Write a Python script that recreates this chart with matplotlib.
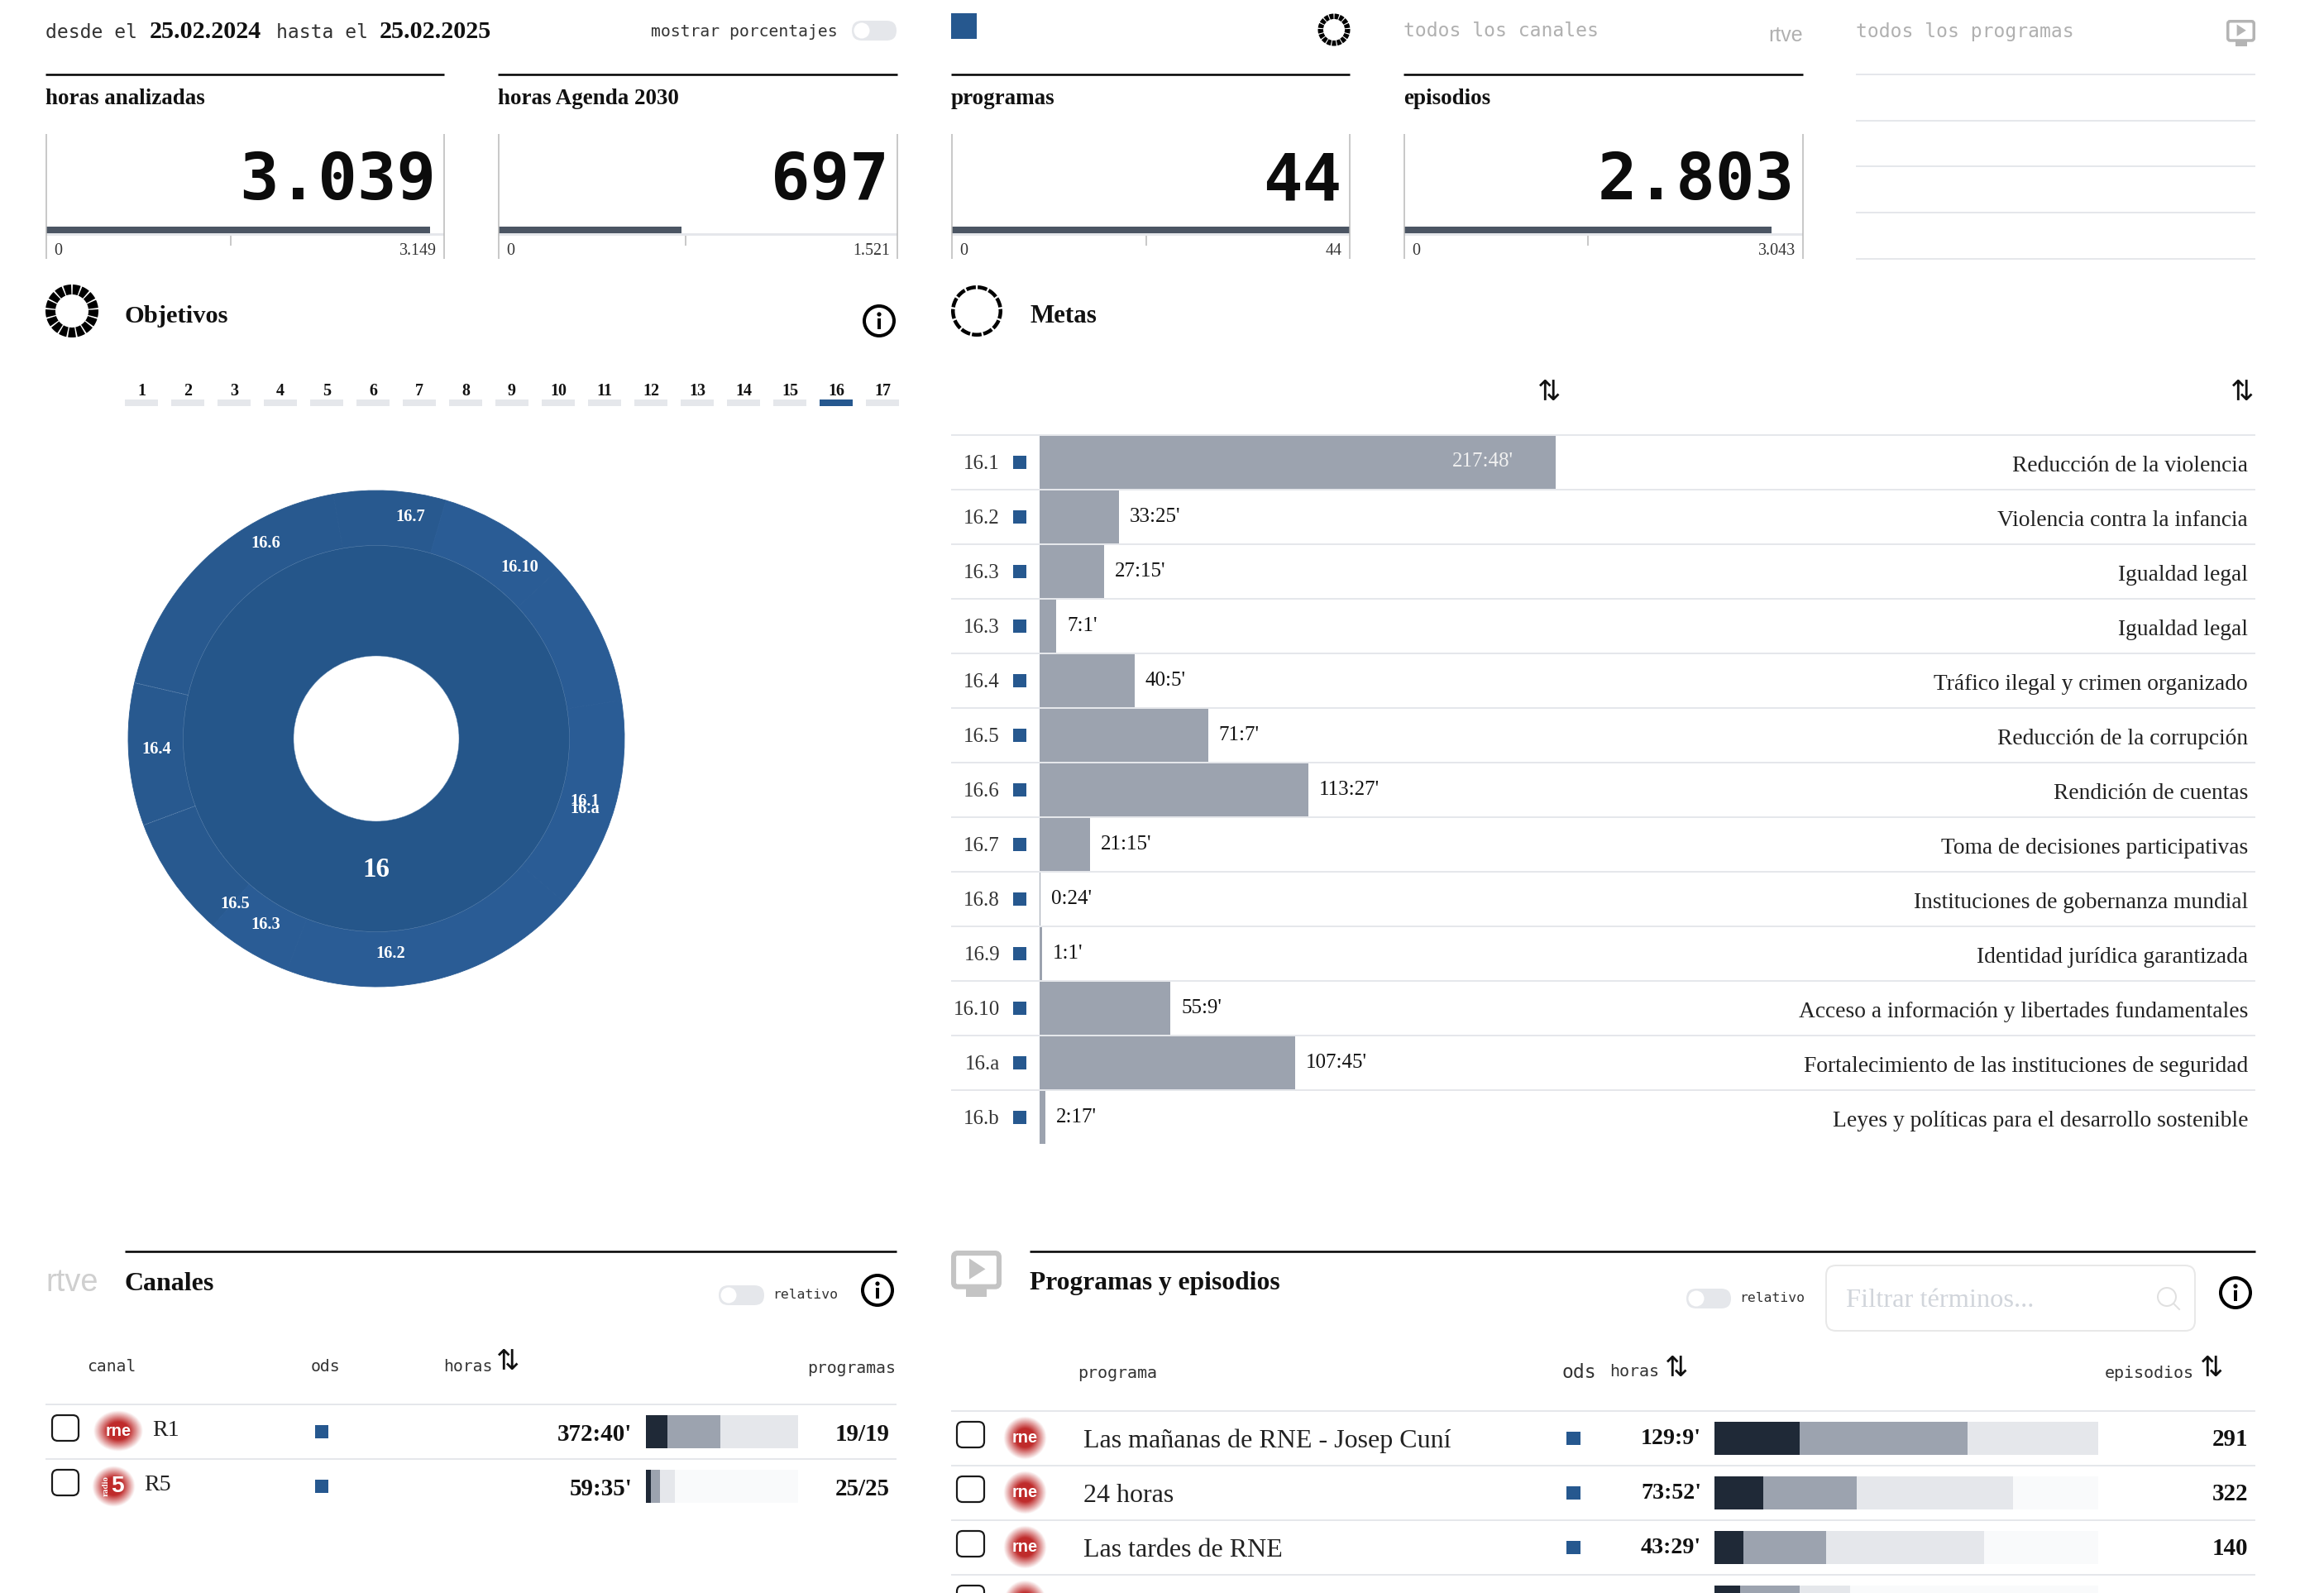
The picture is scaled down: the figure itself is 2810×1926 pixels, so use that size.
import numpy as np
import matplotlib
matplotlib.use('Agg')
import matplotlib.pyplot as plt
from matplotlib.patches import Wedge, Rectangle, FancyBboxPatch, Circle, Polygon

W, H = 2810, 1926
SERIF = 'Liberation Serif'
MONO = 'DejaVu Sans Mono'
BLUE = '#26588f'
DARK = '#1f2937'
GRAY = '#9ca3af'
LIGHT = '#e5e7eb'
PALE = '#f9fafb'
LINE = '#e5e7eb'

# kpi cards
kpi_titles = ['horas analizadas', 'horas Agenda 2030', 'programas', 'episodios']
kpi_text = ['3.039', '697', '44', '2.803']
kpi_values = [3039, 697, 44, 2803]
kpi_max = [3149, 1521, 44, 3043]
kpi_max_text = ['3.149', '1.521', '44', '3.043']
kpi_ticks = [1458, 712, 21.5, 1400]

# objetivos tabs
tab_labels = [str(i) for i in range(1, 18)]
tab_selected = '16'

# sunburst, spans in degrees
outer_labels = ['16.7', '16.6', '16.4', '16.5', '16.3', '16.2', '16.1', '16.a', '16.10']
outer_spans = [26.3, 67.0, 33.4, 28.5, 20.0, 70.0, 50.0, 34.0, 30.8]
outer_colors = ['#28598f', '#28598f', '#28598f', '#28598f', '#2a5c95', '#2a5c95', '#2a5c95', '#2a5c95', '#2a5c95']

# metas
meta_ids = ['16.1', '16.2', '16.3', '16.3', '16.4', '16.5', '16.6', '16.7', '16.8', '16.9', '16.10', '16.a', '16.b']
meta_time = ["217:48'", "33:25'", "27:15'", "7:1'", "40:5'", "71:7'", "113:27'", "21:15'", "0:24'", "1:1'", "55:9'", "107:45'", "2:17'"]
meta_names = ['Reducción de la violencia', 'Violencia contra la infancia', 'Igualdad legal', 'Igualdad legal',
              'Tráfico ilegal y crimen organizado', 'Reducción de la corrupción', 'Rendición de cuentas',
              'Toma de decisiones participativas', 'Instituciones de gobernanza mundial',
              'Identidad jurídica garantizada', 'Acceso a información y libertades fundamentales',
              'Fortalecimiento de las instituciones de seguridad', 'Leyes y políticas para el desarrollo sostenible']

# canales
canal_names = ['R1', 'R5']
canal_time = ["372:40'", "59:35'"]
canal_prog = ['19/19', '25/25']
canal_dark = [14, 3]
canal_gray = [35, 6]
canal_light = [51, 10]
canal_pale = [0, 81]

# programas
prog_names = ['Las mañanas de RNE - Josep Cuní', '24 horas', 'Las tardes de RNE']
prog_time = ["129:9'", "73:52'", "43:29'"]
prog_eps = ['291', '322', '140']
prog_dark = [22.2, 12.8, 7.5, 6.6]
prog_gray = [43.8, 24.2, 21.7, 15.7]
prog_light = [34.0, 40.8, 41.0, 13.0]
prog_pale = [0, 22.2, 29.8, 64.7]


def pt(px):
    return px * 72 / 100


def hours(txt):
    h, m = txt.strip("'").split(':')
    return int(h) + int(m) / 60


fig = plt.figure(figsize=(W / 100, H / 100), dpi=100, facecolor='white')
ui = fig.add_axes([0, 0, 1, 1])
ui.set_xlim(0, W)
ui.set_ylim(H, 0)
ui.axis('off')
ui.set_zorder(10)


def px_axes(x0, y0, x1, y1):
    ax = fig.add_axes([x0 / W, 1 - y1 / H, (x1 - x0) / W, (y1 - y0) / H])
    ax.axis('off')
    ax.patch.set_alpha(0)
    return ax


def txt(x, y, s, size, family=SERIF, weight='normal', color='#111111', ha='left', va='center', **kw):
    return ui.text(x, y + 3, s, fontsize=pt(size), family=family, weight=weight, color=color, ha=ha, va=va, **kw)


def hline(y, x0, x1, color=LINE, lw=2):
    ui.plot([x0, x1], [y, y], color=color, lw=pt(lw), solid_capstyle='butt')


def vline(x, y0, y1, color='#b8b8b8', lw=1.5):
    ui.plot([x, x], [y0, y1], color=color, lw=pt(lw), solid_capstyle='butt')


def rect(x0, y0, x1, y1, color):
    ui.add_patch(Rectangle((x0, y0), x1 - x0, y1 - y0, facecolor=color, edgecolor='none'))


def rounded(x0, y0, x1, y1, r, face='none', edge='none', lw=2):
    ui.add_patch(FancyBboxPatch((x0 + r, y0 + r), x1 - x0 - 2 * r, y1 - y0 - 2 * r,
                                boxstyle='round,pad=%f,rounding_size=%f' % (r, r),
                                facecolor=face, edgecolor=edge, lw=pt(lw)))


def ring(cx, cy, r_out, r_in, n, gap, color='black'):
    step = 360 / n
    for i in range(n):
        a = 90 + i * step - step / 2
        ui.add_patch(Wedge((cx, cy), r_out, a + gap / 2, a + step - gap / 2, width=r_out - r_in,
                           facecolor=color, edgecolor='none'))


def toggle(x0, y0, x1, y1):
    r = (y1 - y0) / 2
    rounded(x0, y0, x1, y1, r, face='#e5e7eb')
    ui.add_patch(Circle((x0 + r, y0 + r), r - 2.5, facecolor='white', edgecolor='none'))


def info(cx, cy, r=18):
    ui.add_patch(Circle((cx, cy), r, facecolor='white', edgecolor='black', lw=pt(4)))
    ui.add_patch(Circle((cx, cy - 8), 2.6, facecolor='black', edgecolor='none'))
    rect(cx - 2.4, cy - 3, cx + 2.4, cy + 10, 'black')


def play_icon(x0, y0, x1, y1, color):
    h = y1 - y0
    w = x1 - x0
    sy = y0 + h * 0.78
    lw = w * 0.1
    rounded(x0 + lw / 2, y0 + lw / 2, x1 - lw / 2, sy, w * 0.08, edge=color, lw=lw)
    rect(x0 + w * 0.3, sy, x1 - w * 0.3, y1, color)
    ui.add_patch(Polygon([(x0 + w * 0.36, y0 + h * 0.17), (x0 + w * 0.68, y0 + h * 0.4), (x0 + w * 0.36, y0 + h * 0.62)],
                         facecolor=color, edgecolor='none'))


def logo(cx, cy, rx, ry, five=False):
    n = 80
    gx, gy = np.meshgrid(np.linspace(-1.4, 1.4, n), np.linspace(-1.4, 1.4, n))
    d = np.sqrt(gx ** 2 + gy ** 2)
    a = np.clip((1.25 - d) / 0.7, 0, 1)
    img = np.zeros((n, n, 4))
    img[..., 0] = 0.75
    img[..., 1] = 0.17
    img[..., 2] = 0.17
    img[..., 3] = a
    ui.imshow(img, extent=(cx - 1.4 * rx, cx + 1.4 * rx, cy + 1.4 * ry, cy - 1.4 * ry), aspect='auto', zorder=2,
              interpolation='bilinear')
    if five:
        txt(cx + 5, cy - 3, '5', 28, family='Liberation Sans', weight='bold', color='white', ha='center', zorder=3)
        txt(cx - 9, cy - 3, 'radio', 11, weight='bold', color='white', ha='center', rotation=90, zorder=3)
    else:
        txt(cx, cy - 3, 'rne', 20, family='Liberation Sans', color='white', weight='bold', ha='center', zorder=3)


def checkbox(x0, y0, x1, y1):
    rounded(x0, y0, x1, y1, 7, edge='#1a1a1a', lw=2.2)


def sort_icon(x, y):
    ui.text(x, y, '⇅', fontsize=pt(34), family='DejaVu Sans', ha='center', va='center', color='#111111')


# header row
txt(55, 37, 'desde el', 23, family=MONO, color='#333333')
txt(181, 36, '25.02.2024', 30, weight='bold')
txt(334, 37, 'hasta el', 23, family=MONO, color='#333333')
txt(459, 36, '25.02.2025', 30, weight='bold')
txt(1013, 36, 'mostrar porcentajes', 19.8, family=MONO, ha='right', color='#333333')
toggle(1030, 25, 1084, 49)
rect(1150, 16, 1181, 47, BLUE)
ring(1613, 36, 19.5, 13, 17, 4)
txt(1697, 35, 'todos los canales', 23, family=MONO, color='#b0b0b0')
txt(2180, 40, 'rtve', 25, family='Liberation Sans', color='#b0b0b0', ha='right')
txt(2244, 35, 'todos los programas', 23, family=MONO, color='#b0b0b0')
play_icon(2692, 24, 2727, 56, '#b4b4b4')

# kpi cards
card_x = [(55, 537), (602, 1085), (1150, 1632), (1697, 2180)]
for i, (x0, x1) in enumerate(card_x):
    hline(90, x0, x1, color='black', lw=2.5)
    txt(x0, 116, kpi_titles[i], 27, weight='bold')
    vline(x0 + 1, 162, 313)
    vline(x1, 162, 313)
    rect(x0 + 1, 282, x1, 285, LINE)
    ax = px_axes(x0 + 1, 274, x1, 297)
    ax.set_xlim(0, kpi_max[i])
    ax.set_ylim(23, 0)
    ax.barh([4], [kpi_values[i]], height=8, left=0, color='#4b5563')
    ax.plot([kpi_ticks[i], kpi_ticks[i]], [10, 23], color='#b8b8b8', lw=pt(1.5))
    txt(x1 - 10, 216, kpi_text[i], 79, family=MONO, weight='bold', ha='right', color='#0c0c0c')
    txt(x0 + 10, 300, '0', 20, color='#333333')
    txt(x1 - 9, 300, kpi_max_text[i], 20, color='#333333', ha='right')
for y in [90, 146, 201, 257, 313]:
    hline(y, 2244, 2727)

# objetivos
ring(87, 376, 32, 20, 17, 3.5)
txt(151, 379, 'Objetivos', 30.5, weight='bold')
info(1063, 388)
for i, lab in enumerate(tab_labels):
    x = 151 + i * 56
    rect(x, 483, x + 40, 491, BLUE if lab == tab_selected else LINE)
    txt(x + 20, 470, lab, 20, weight='bold', ha='center')

# sunburst
sun = px_axes(135, 573, 775, 1213)
outer, _ = sun.pie(outer_spans, radius=300, startangle=73.7, colors=outer_colors, labels=None,
                   wedgeprops={'width': 66.5, 'linewidth': 0})
for w in outer:
    w.set_edgecolor(w.get_facecolor())
    w.set_linewidth(0.6)
sun.pie([1], radius=233.5, colors=['#25568a'], wedgeprops={'width': 133.5, 'edgecolor': '#5f86b0', 'linewidth': 0.3})
for a in [167.0, 200.4]:
    t = np.deg2rad(a)
    sun.plot([233.5 * np.cos(t), 300 * np.cos(t)], [233.5 * np.sin(t), 300 * np.sin(t)],
             color='#7f9fc2', lw=0.45, ls=(0, (2, 1)))
sun.set_xlim(-320, 320)
sun.set_ylim(-320, 320)
sun.set_aspect('equal')
donut_text = [('16.7', 496, 623), ('16.6', 321, 655), ('16.10', 628, 684), ('16.4', 189, 904), ('16.1', 707, 967),
              ('16.a', 707, 976), ('16.5', 284, 1091), ('16.3', 321, 1116), ('16.2', 472, 1151)]
for lab, x, y in donut_text:
    txt(x, y - 1, lab, 20.5, weight='bold', color='white', ha='center', zorder=5)
txt(455, 1048, '16', 33, weight='bold', color='white', ha='center', zorder=5)

# metas
ring(1181, 376, 31, 26.5, 13, 4.5)
txt(1245, 379, 'Metas', 31, weight='bold')
sort_icon(1873, 474)
sort_icon(2711, 474)
for i in range(13):
    hline(526 + i * 66, 1150, 2727)
meta = px_axes(1257, 526, 2727, 1384)
meta.set_xlim(0, (2727 - 1257) / 2.865)
meta.set_ylim(13, 0)
meta_hours = [hours(t) for t in meta_time]
meta.barh(np.arange(13) + 0.5, meta_hours, height=0.96, color=GRAY)
for i, v in enumerate(meta_hours):
    yc = 559 + i * 66
    txt(1209, yc - 1, meta_ids[i], 25, ha='right', color='#333333')
    rect(1225, yc - 8, 1241, yc + 8, BLUE)
    txt(2718, yc + 1, meta_names[i], 27.5, ha='right', color='#222222')
    if v > 200:
        txt(1830, yc - 4, meta_time[i], 25, ha='right', color='#f0f0f0')
    else:
        meta.annotate(meta_time[i], (v, i + 0.5), xytext=(pt(13), 0), textcoords='offset points', ha='left',
                      va='center', fontsize=pt(25), family=SERIF, color='#111111')

# canales
hline(1513, 151, 1084, color='black', lw=2.5)
txt(55, 1548, 'rtve', 38, family='Liberation Sans', color='#cfcfcf')
txt(151, 1549, 'Canales', 32, weight='bold')
toggle(869, 1554, 924, 1578)
txt(934, 1563, 'relativo', 16.4, family=MONO, color='#333333')
info(1061, 1560)
txt(105, 1650, 'canal', 19.8, family=MONO, color='#333333')
txt(376, 1650, 'ods', 19.8, family=MONO, color='#333333')
txt(536, 1650, 'horas', 19.8, family=MONO, color='#333333')
sort_icon(614, 1647)
txt(1083, 1651, 'programas', 19.8, family=MONO, ha='right', color='#333333')
hline(1698, 55, 1084)
hline(1764, 55, 1084)
canal_bars = px_axes(781, 1698, 965, 1830)
canal_bars.set_xlim(0, 100)
canal_bars.set_ylim(2, 0)
left = np.zeros(2)
for vals, col in zip([canal_dark, canal_gray, canal_light, canal_pale], [DARK, GRAY, LIGHT, PALE]):
    canal_bars.barh(np.arange(2) + 0.5, vals, left=left, height=0.606, color=col)
    left = left + np.array(vals)
for i, name in enumerate(canal_names):
    yc = 1731 + i * 66
    checkbox(63, yc - 20, 95, yc + 11)
    logo(143 if i == 0 else 137, yc - 1 + i * 1, 24 if i == 0 else 21, 20, five=(i == 1))
    txt(184 if i == 0 else 174, yc - 4, name, 28, color='#222222')
    rect(381, yc - 8, 397, yc + 8, BLUE)
    txt(764, yc, canal_time[i], 29, weight='bold', ha='right')
    txt(1076, yc, canal_prog[i], 29, weight='bold', ha='right')

# programas
play_icon(1150, 1512, 1211, 1568, '#c4c4c4')
hline(1513, 1245, 2727, color='black', lw=2.5)
txt(1245, 1549, 'Programas y episodios', 31.5, weight='bold')
toggle(2039, 1558, 2093, 1582)
txt(2103, 1567, 'relativo', 16.4, family=MONO, color='#333333')
rounded(2208, 1530, 2654, 1609, 12, edge='#e8e8e8', lw=2)
txt(2232, 1569, 'Filtrar términos...', 32.5, color='#d1d5db')
ui.add_patch(Circle((2620, 1568), 11, facecolor='none', edgecolor='#e0e0e0', lw=pt(2)))
ui.plot([2628, 2635], [1576, 1583], color='#e0e0e0', lw=pt(2))
info(2703, 1563)
txt(1303, 1657, 'programa', 20, family=MONO, color='#333333')
txt(1888, 1656, 'ods', 23, family=MONO, color='#333333')
txt(1946, 1656, 'horas', 20, family=MONO, color='#333333')
sort_icon(2027, 1655)
txt(2545, 1657, 'episodios', 20, family=MONO, color='#333333')
sort_icon(2674, 1655)
for i in range(4):
    hline(1706 + i * 66, 1150, 2727)
prog_bars = px_axes(2073, 1706, 2537, 1970)
prog_bars.set_xlim(0, 100)
prog_bars.set_ylim(4, 0)
left = np.zeros(4)
for vals, col in zip([prog_dark, prog_gray, prog_light, prog_pale], [DARK, GRAY, LIGHT, PALE]):
    prog_bars.barh(np.arange(4) + 0.5, vals, left=left, height=0.606, color=col)
    left = left + np.array(vals)
for i in range(4):
    yc = 1739 + i * 66
    checkbox(1157, yc - 20, 1190, yc + 11)
    logo(1239, yc, 21, 21)
    if i < 3:
        txt(1310, yc, prog_names[i], 32, color='#222222')
        rect(1894, yc - 8, 1911, yc + 8, BLUE)
        txt(2057, yc - 2, prog_time[i], 28, weight='bold', ha='right')
        txt(2718, yc - 2, prog_eps[i], 29, weight='bold', ha='right')

ui.set_xlim(0, W)
ui.set_ylim(H, 0)
fig.savefig('out.png', dpi=100, facecolor='white')
